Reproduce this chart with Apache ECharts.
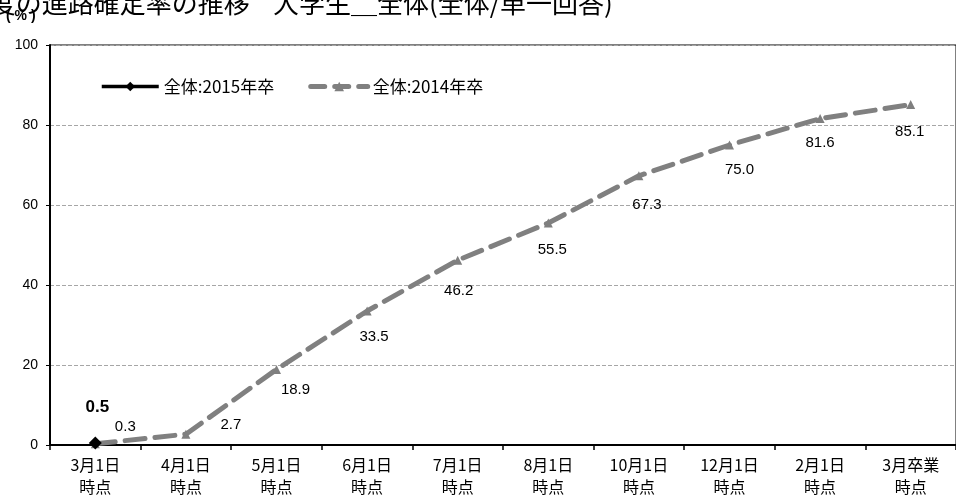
<!DOCTYPE html>
<html><head><meta charset="utf-8">
<script src="https://cdn.jsdelivr.net/npm/echarts@6/dist/echarts.min.js"></script>
<style>html,body{margin:0;padding:0;background:#fff}#c{width:956px;height:498px}</style>
</head><body><div id="c"></div>
<script>
var titleText = '2015年度の進路確定率の推移    大学生＿全体(全体/単一回答)';
var unitText = '( % )';
var categories = ['3月1日\n時点','4月1日\n時点','5月1日\n時点','6月1日\n時点','7月1日\n時点','8月1日\n時点','10月1日\n時点','12月1日\n時点','2月1日\n時点','3月卒業\n時点'];
var seriesNames = ['全体:2015年卒','全体:2014年卒'];
var values2015 = [0.5];
var values2014 = [0.3, 2.7, 18.9, 33.5, 46.2, 55.5, 67.3, 75.0, 81.6, 85.1];
var yTicks = [0, 20, 40, 60, 80, 100];

// label offsets (styling, not data)
var offs2014 = [[30,-17],[45,-9],[19,20],[7,26],[1,31],[4,27],[8,29],[10,25],[0,24],[-1,27]];

var FONT = '"Noto Sans CJK JP",sans-serif';
var chart = echarts.init(document.getElementById('c'));
chart.setOption({
  animation:false,
  backgroundColor:'#fff',
  graphic:[
    {type:'text', left:-94, top:-10, z:1, style:{text:titleText, fontSize:26, fill:'#000', fontFamily:FONT}},
    {type:'text', x:6, y:9, z:5, style:{text:unitText, fontSize:14, fontWeight:'bold', fill:'#000', fontFamily:'"Liberation Sans",sans-serif'}}
  ],
  legend:{
    left:95, top:73, itemWidth:57, itemHeight:12, itemGap:34,
    textStyle:{fontSize:17, color:'#000', fontFamily:FONT},
    data:[
      {name:seriesNames[0], lineStyle:{color:'#000', width:3.5, type:'solid'}},
      {name:seriesNames[1], lineStyle:{color:'#808080', width:5, type:[14,10], cap:'round'}}
    ]
  },
  grid:{left:50, top:45, width:914, bottom:52, show:true, borderColor:'#000', borderWidth:1},
  xAxis:{
    type:'category', data:categories, boundaryGap:true,
    axisLine:{lineStyle:{color:'#000', width:2}},
    axisTick:{show:true, length:5, lineStyle:{color:'#000', width:1.5}},
    axisLabel:{fontSize:16, color:'#000', fontFamily:FONT, lineHeight:22, margin:9, interval:0}
  },
  yAxis:{
    type:'value', min:yTicks[0], max:yTicks[yTicks.length-1], interval:20,
    axisLine:{show:true, lineStyle:{color:'#000', width:2}},
    axisTick:{show:true, length:4, lineStyle:{color:'#000'}},
    axisLabel:{fontSize:14, color:'#000', fontFamily:'"Liberation Sans",Arial,sans-serif', margin:12},
    splitLine:{show:true, lineStyle:{color:'#a6a6a6', type:[4,2], width:1}}
  },
  series:[
    {
      name:seriesNames[1], type:'line', data:values2014.map(function(v,i){
        return {value:v, label:{offset:offs2014[i]}};
      }),
      symbol:'triangle', symbolSize:9,
      itemStyle:{color:'#7f7f7f'},
      lineStyle:{color:'#808080', width:5, type:[20,10], cap:'round'},
      label:{show:true, position:'inside', formatter:function(p){return p.value.toFixed(1);}, fontSize:15, color:'#000', fontFamily:'"Liberation Sans Narrow","Liberation Sans",sans-serif'},
      z:2
    },
    {
      name:seriesNames[0], type:'line', data:values2015,
      symbol:'diamond', symbolSize:13,
      itemStyle:{color:'#000'},
      lineStyle:{color:'#000', width:3.5},
      label:{show:true, position:'inside', offset:[2,-36], formatter:function(p){return p.value.toFixed(1);}, fontSize:17, fontWeight:'bold', color:'#000', fontFamily:'"Liberation Sans",sans-serif'},
      z:3
    }
  ]
});
</script></body></html>
